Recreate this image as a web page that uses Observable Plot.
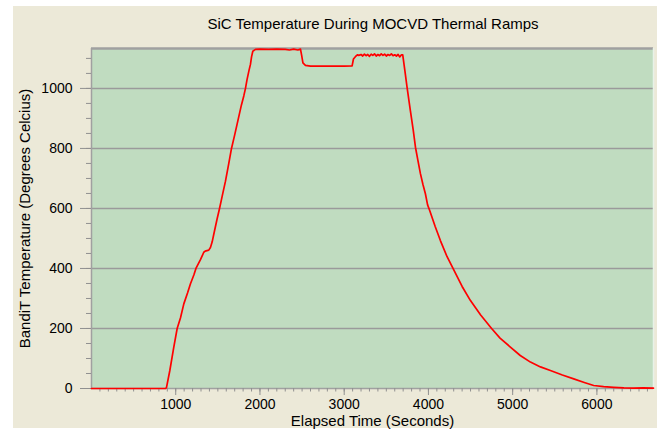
<!DOCTYPE html>
<html>
<head>
<meta charset="utf-8">
<script src="https://cdn.jsdelivr.net/npm/d3@7"></script>
<script src="https://cdn.jsdelivr.net/npm/@observablehq/plot@0.6"></script>
<style>
  html, body { margin: 0; padding: 0; background: #ffffff; }
  #wrap { position: relative; width: 664px; height: 430px; overflow: hidden; font-family: Arial, "Liberation Sans", sans-serif; }
  #panel { position: absolute; left: 13px; top: 6px; width: 644px; height: 422px; background: #ECE9D8; }
  #title { position: absolute; left: 123px; width: 500px; top: 15px; text-align: center; font-size: 15px; color: #000; line-height: 18px; }
  #chart { position: absolute; left: 0; top: 0; }
  #chart svg { background: transparent; }
</style>
</head>
<body>
<div id="wrap">
  <div id="panel"></div>
  <div id="title">SiC Temperature During MOCVD Thermal Ramps</div>
  <div id="chart"></div>
</div>
<script>
// Elapsed time (seconds)
const timeSec = [
  0, 880, 890, 930, 977, 1017, 1056, 1096, 1140, 1175, 1215, 1240, 1295, 1333, 1350, 1392,
  1412, 1432, 1460, 1491, 1520, 1551, 1590, 1630, 1662, 1700, 1748, 1780, 1808, 1828, 1847,
  1870, 1887, 1900, 1915, 1947, 2000, 2100, 2200, 2300, 2350, 2400, 2450, 2481,
  2495, 2510, 2540, 2600, 2800, 3000, 3094, 3110, 3140, 3160, 3173, 3200,
  3220, 3240, 3260, 3280, 3300, 3320, 3340, 3360, 3380, 3400, 3420, 3440, 3460, 3480,
  3500, 3520, 3540, 3560, 3580, 3600, 3620, 3640, 3660, 3680, 3695,
  3720, 3746, 3786, 3820, 3846, 3875, 3905, 3935, 3964, 3990, 4015, 4080, 4142, 4220,
  4292, 4400, 4499, 4620, 4750, 4850, 4973, 5090, 5211, 5330, 5448, 5590, 5725, 5850,
  5962, 6080, 6200, 6320, 6437, 6550, 6672
];
// BandiT temperature (degrees Celsius)
const tempC = [
  0, 0, 3, 60, 138, 200, 235, 282, 318, 349, 378, 400, 430, 454, 458, 461,
  470, 488, 525, 565, 600, 640, 690, 750, 800, 845, 905, 945, 975, 1000, 1030,
  1060, 1080, 1105, 1124, 1130, 1131, 1130, 1131, 1130, 1128, 1131, 1128, 1131,
  1110, 1085, 1077, 1074, 1074, 1074, 1075, 1098, 1108, 1112, 1110, 1113,
  1108, 1114, 1109, 1113, 1107, 1114, 1110, 1115, 1108, 1113, 1109, 1115, 1110, 1114,
  1108, 1113, 1110, 1115, 1109, 1112, 1108, 1113, 1105, 1112, 1112,
  1060, 1004, 925, 860, 804, 760, 716, 680, 649, 612, 593, 540, 493, 440,
  400, 340, 293, 245, 200, 168, 138, 110, 88, 72, 60, 45, 32, 20,
  10, 6, 4, 2, 1, 2, 1
];
const xMajorTicks = [1000, 2000, 3000, 4000, 5000, 6000];
const yMajorTicks = [0, 200, 400, 600, 800, 1000];
const yGrid = [200, 400, 600, 800, 1000];

const data = timeSec.map((t, i) => ({t, v: tempC[i]}));
const xMax = 6672, yMax = 1133;
const fmt = d3.format("d");

const chart = Plot.plot({
  width: 664,
  height: 430,
  marginLeft: 91,
  marginRight: 11,
  marginTop: 48,
  marginBottom: 42,
  style: {background: "transparent", fontFamily: "Arial, 'Liberation Sans', sans-serif", fontSize: "14px", color: "#000"},
  x: {domain: [0, xMax]},
  y: {domain: [0, yMax]},
  marks: [
    Plot.frame({fill: "#C0DCC0", stroke: null}),
    Plot.ruleY(yGrid, {stroke: "#9a9a9a", strokeWidth: 1.5}),
    Plot.ruleY([yMax], {stroke: "#a0a0a0", strokeWidth: 2.5}),
    Plot.ruleX([0], {stroke: "#a0a0a0", strokeWidth: 1.5}),
    Plot.ruleX([xMax], {stroke: "#e8f2e8", strokeWidth: 1.5}),
    Plot.ruleY([0], {stroke: "#a0a0a0", strokeWidth: 1.5}),
    Plot.axisY({ticks: d3.range(0, 1101, 50), tickSize: 5, tickFormat: () => "", label: null, stroke: "#909090"}),
    Plot.axisY({ticks: yMajorTicks, tickSize: 11, tickPadding: 8, tickFormat: fmt, label: null, stroke: "#909090", fill: "#000", fontSize: 14}),
    Plot.axisX({ticks: d3.range(100, xMax, 100), tickSize: 3.5, tickFormat: () => "", label: null, stroke: "#909090"}),
    Plot.axisX({ticks: xMajorTicks, tickSize: 7, tickPadding: 4, tickFormat: fmt, label: null, stroke: "#909090", fill: "#000", fontSize: 14}),
    Plot.line(data, {x: "t", y: "v", stroke: "#ff0000", strokeWidth: 1.7}),
    Plot.text(["BandiT Temperature (Degrees Celcius)"], {frameAnchor: "left", rotate: -90, dx: -66, textAnchor: "middle", lineAnchor: "middle", fontSize: 15, fill: "#000"}),
    Plot.text(["Elapsed Time (Seconds)"], {frameAnchor: "bottom", dy: 33, textAnchor: "middle", lineAnchor: "middle", fontSize: 15, fill: "#000"})
  ]
});
document.getElementById("chart").appendChild(chart);
</script>
</body>
</html>
